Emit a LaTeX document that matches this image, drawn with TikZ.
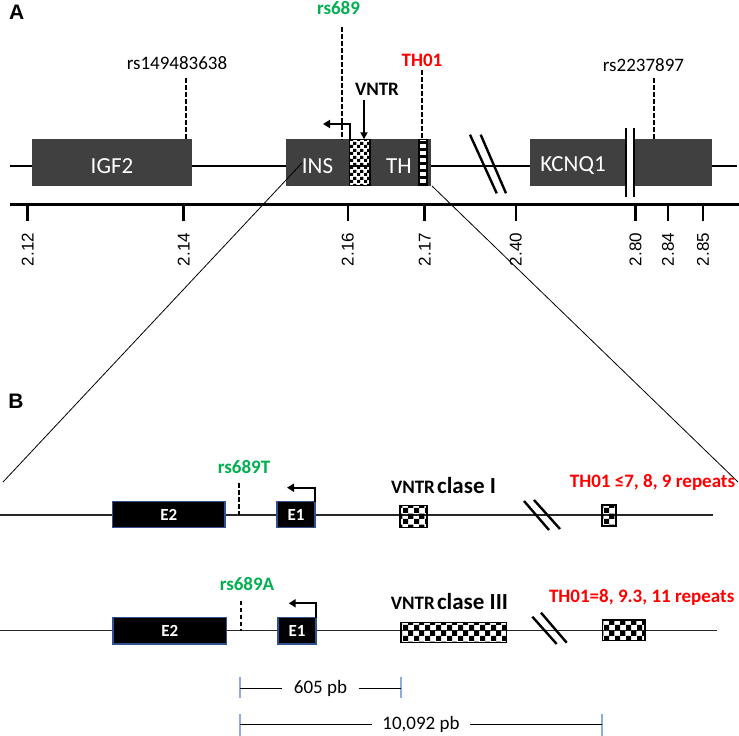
\documentclass[tikz,border=0pt]{standalone}
\usepackage{fontspec}
\setmainfont{Carlito}
\newfontfamily\arialf{Liberation Sans}
\usetikzlibrary{arrows.meta,patterns}
\definecolor{genegray}{HTML}{404040}
\definecolor{snpgreen}{HTML}{00B050}
\definecolor{threpred}{HTML}{FF0000}
\definecolor{exonedge}{HTML}{2F528F}
\definecolor{pbblue}{HTML}{8FAADC}
\pgfdeclarepatternformonly{chkA}{\pgfpointorigin}{\pgfqpoint{7pt}{7pt}}{\pgfqpoint{7pt}{7pt}}{%
  \pgfpathrectangle{\pgfpointorigin}{\pgfqpoint{3.5pt}{3.5pt}}%
  \pgfpathrectangle{\pgfqpoint{3.5pt}{3.5pt}}{\pgfqpoint{3.5pt}{3.5pt}}%
  \pgfusepath{fill}}
\pgfdeclarepatternformonly{chkB}{\pgfpointorigin}{\pgfqpoint{10.6pt}{10.6pt}}{\pgfqpoint{10.6pt}{10.6pt}}{%
  \pgfpathrectangle{\pgfpointorigin}{\pgfqpoint{5.3pt}{5.3pt}}%
  \pgfpathrectangle{\pgfqpoint{5.3pt}{5.3pt}}{\pgfqpoint{5.3pt}{5.3pt}}%
  \pgfusepath{fill}}
\begin{document}
\begin{tikzpicture}[x=1pt,y=-1pt,
  genebox/.style={fill=genegray,draw=none,inner sep=0pt,outer sep=0pt,minimum height=46.4pt},
  genetext/.style={text=white,font=\fontsize{23}{26}\selectfont,inner sep=0pt},
  chkboxA/.style={draw=black,line width=1.2pt,pattern=chkA,inner sep=0pt,outer sep=0pt,minimum height=46.4pt},
  chkboxB/.style={draw=black,line width=1.4pt,pattern=chkB,inner sep=0pt,outer sep=0pt},
  snplabel/.style={font=\fontsize{19}{22}\selectfont,inner sep=0pt},
  greenlabel/.style={font=\fontsize{19}{22}\selectfont\bfseries,text=snpgreen,inner sep=0pt},
  redlabel/.style={font=\fontsize{19}{22}\selectfont\bfseries,text=threpred,inner sep=0pt},
  boldlabel/.style={font=\fontsize{19}{22}\selectfont\bfseries,inner sep=0pt},
  snpdash/.style={line width=2pt,dash pattern=on 4.5pt off 2.5pt},
  mainline/.style={line width=2pt},
  thinline/.style={line width=1.1pt,black!85},
  zoomline/.style={line width=0.8pt},
  breakmark/.style={line width=2.4pt},
  barmark/.style={line width=2.2pt},
  tsspointer/.style={line width=2pt,-{Triangle[length=7pt,width=8pt]}},
  downpointer/.style={line width=1.8pt,-{Triangle[length=7pt,width=7pt]}},
  axisline/.style={line width=2.5pt},
  axistick/.style={line width=2.5pt},
  ticklabel/.style={font=\arialf\fontsize{17}{20}\selectfont,rotate=90,inner sep=0pt},
  exon/.style={fill=black,draw=exonedge,line width=1.3pt,inner sep=0pt,outer sep=0pt,text=white,font=\fontsize{17}{20}\selectfont\bfseries},
  panel/.style={font=\arialf\fontsize{21}{24}\selectfont\bfseries,inner sep=0pt},
  pbtick/.style={draw=pbblue,line width=1.3pt},
  pbline/.style={line width=1pt}
]
\useasboundingbox[fill=white] (0,0) rectangle (739,736);

% ---------------- Panel A ----------------
\node[panel] (pA) at (16.7,12.7) {A};

\coordinate (mlL) at (10,165.7);
\coordinate (mlR) at (737,165.7);
\draw[mainline] (mlL) -- (mlR);

\node[genebox,minimum width=160.3pt] (igf2) at (111.85,162.5) {};
\node[genebox,minimum width=63.5pt] (ins) at (317.75,162.5) {};
\node[genebox,minimum width=60.5pt] (th) at (400.25,162.5) {};
\node[chkboxA,minimum width=20.5pt] (vntrA) at (359.75,162.5) {};
\node[draw=black,line width=1.2pt,fill=white,inner sep=0pt,outer sep=0pt,minimum width=8pt,minimum height=46.4pt] (th01A) at (423,162.5) {};
\foreach \k in {0,2,4,6,8,10,12}{
  \fill[black] (420.4,140.5+\k*3.5) rectangle (425.6,144+\k*3.5);
}
\node[genebox,minimum width=96pt] (kcnqL) at (578,162.5) {};
\node[genebox,minimum width=77.7pt] (kcnqR) at (672.85,162.5) {};
\fill[white] (kcnqL.north east) rectangle (kcnqR.south west);
\draw[barmark] ([yshift=11.3pt]kcnqL.north east) -- ([yshift=-11.3pt]kcnqL.south east);
\draw[barmark] ([yshift=11.3pt]kcnqR.north west) -- ([yshift=-11.3pt]kcnqR.south west);

\node[genetext] (igf2t) at (112,165.7) {IGF2};
\node[genetext] (inst) at (317.5,165.7) {INS};
\node[genetext] (tht) at (399,165.7) {TH};
\node[genetext] (kcnqt) at (573,165.7) {KCNQ1};

% SNPs and markers
\node[snplabel] (rs149) at (177,63) {rs149483638};
\coordinate (rs149top) at (186,78);
\draw[snpdash] (rs149top) -- (rs149top |- igf2.north);

\node[greenlabel] (rs689) at (338.5,8.3) {rs689};
\coordinate (rs689top) at (342,27);
\draw[snpdash] (rs689top) -- (rs689top |- ins.north);

\node[redlabel] (th01lbl) at (422,60) {TH01};
\coordinate (th01top) at (421.7,70);
\draw[snpdash] (th01top) -- (th01top |- th01A.north);

\node[snplabel] (rs223) at (643.5,65) {rs2237897};
\coordinate (rs223top) at (654,78);
\draw[snpdash] (rs223top) -- (rs223top |- kcnqR.north);

\node[boldlabel] (vntrlbl) at (377,89) {VNTR};
\coordinate (vntrtop) at (364,100);
\draw[downpointer] (vntrtop) -- (vntrtop |- vntrA.north);

\coordinate (insTSS) at (323,124);
\draw[tsspointer] (vntrA.north west) |- (insTSS);

% break marks
\coordinate (bkA1) at (470,134.7);  \coordinate (bkA2) at (496.7,193.3);
\coordinate (bkA3) at (480.7,134.7); \coordinate (bkA4) at (506,193.3);
\draw[breakmark] (bkA1) -- (bkA2);
\draw[breakmark] (bkA3) -- (bkA4);

% axis
\coordinate (axL) at (10,204.3);
\coordinate (axR) at (739,204.3);
\draw[axisline] (axL) -- (axR);
\foreach \px/\lab in {27.6/2.12,183.7/2.14,347.8/2.16,424.6/2.17,515.8/2.40,635.5/2.80,667.9/2.84,702.9/2.85}{
  \draw[axistick] (\px,204.3) -- (\px,221);
  \node[ticklabel] at (\px,249.5) {\lab};
}

% zoom lines
\coordinate (zL1) at (302,163);
\coordinate (zL2) at (3,482);
\coordinate (zR1) at (432,186);
\coordinate (zR2) at (738,482);
\draw[zoomline] (zL1) -- (zL2);
\draw[zoomline] (zR1) -- (zR2);

% ---------------- Panel B ----------------
\node[panel] (pB) at (16,401) {B};

% allele class I
\coordinate (l1L) at (0,515);
\coordinate (l1R) at (713,515);
\draw[thinline] (l1L) -- (l1R);
\node[exon,minimum width=112.3pt,minimum height=26pt] (e2a) at (168.85,514.7) {E2};
\node[exon,minimum width=38pt,minimum height=26pt] (e1a) at (296,514.7) {E1};
\coordinate (tssa) at (287,487.7);
\draw[tsspointer] (e1a.north east) |- (tssa);
\node[greenlabel] (rsT) at (244,467) {rs689T};
\coordinate (rsTtop) at (239.3,483);
\draw[snpdash] (rsTtop) -- (rsTtop |- l1L);
\node[inner sep=0pt,font=\bfseries] (vntrI) at (443.5,485.5) {{\fontsize{19}{22}\selectfont VNTR} {\fontsize{23}{26}\selectfont clase I}};
\node[chkboxB,minimum width=27pt,minimum height=22pt] (chk1) at (413.5,516.7) {};
\coordinate (bkB1) at (524,501); \coordinate (bkB2) at (549,530);
\coordinate (bkB3) at (534,500); \coordinate (bkB4) at (560,529);
\draw[breakmark] (bkB1) -- (bkB2);
\draw[breakmark] (bkB3) -- (bkB4);
\node[chkboxB,minimum width=14pt,minimum height=21pt] (chk2) at (609,515.5) {};
\node[redlabel] (th01I) at (652.5,482.7) {TH01 ≤7, 8, 9 repeats};

% allele class III
\coordinate (l2L) at (0,630.7);
\coordinate (l2R) at (717,630.7);
\draw[thinline] (l2L) -- (l2R);
\node[exon,minimum width=113.7pt,minimum height=26.3pt] (e2b) at (169.85,630.85) {E2};
\node[exon,minimum width=38pt,minimum height=26.3pt] (e1b) at (297,630.85) {E1};
\coordinate (tssb) at (288.7,603.3);
\draw[tsspointer] (e1b.north east) |- (tssb);
\node[greenlabel] (rsA) at (247,584) {rs689A};
\coordinate (rsAtop) at (240.7,600.7);
\draw[snpdash] (rsAtop) -- (rsAtop |- l2L);
\node[inner sep=0pt,font=\bfseries] (vntrIII) at (449.5,601.7) {{\fontsize{19}{22}\selectfont VNTR} {\fontsize{23}{26}\selectfont clase III}};
\node[chkboxB,minimum width=105.7pt,minimum height=20pt] (chk3) at (453.85,632.7) {};
\coordinate (bkC1) at (532.3,616.7); \coordinate (bkC2) at (556.7,644);
\coordinate (bkC3) at (541,612.7);   \coordinate (bkC4) at (566.7,642.7);
\draw[breakmark] (bkC1) -- (bkC2);
\draw[breakmark] (bkC3) -- (bkC4);
\node[chkboxB,minimum width=42.7pt,minimum height=20.7pt] (chk4) at (623.65,630.35) {};
\node[redlabel] (th01III) at (641.7,597.3) {TH01=8, 9.3, 11 repeats};

% distances
\coordinate (d1L) at (240,688);
\coordinate (d1R) at (401,688);
\draw[pbtick] ([yshift=11pt]d1L) -- ([yshift=-10pt]d1L);
\draw[pbtick] ([yshift=11pt]d1R) -- ([yshift=-10pt]d1R);
\draw[pbline] (d1L) -- node[fill=white,inner xsep=12pt,inner ysep=1pt,font=\fontsize{19}{22}\selectfont] (d1lbl) {605 pb} (d1R);

\coordinate (d2L) at (240,724);
\coordinate (d2R) at (602,724);
\draw[pbtick] ([yshift=10pt]d2L) -- ([yshift=-12pt]d2L);
\draw[pbtick] ([yshift=10pt]d2R) -- ([yshift=-12pt]d2R);
\draw[pbline] (d2L) -- node[fill=white,inner xsep=10pt,inner ysep=1pt,font=\fontsize{19}{22}\selectfont] (d2lbl) {10,092 pb} (d2R);
\end{tikzpicture}
\end{document}
